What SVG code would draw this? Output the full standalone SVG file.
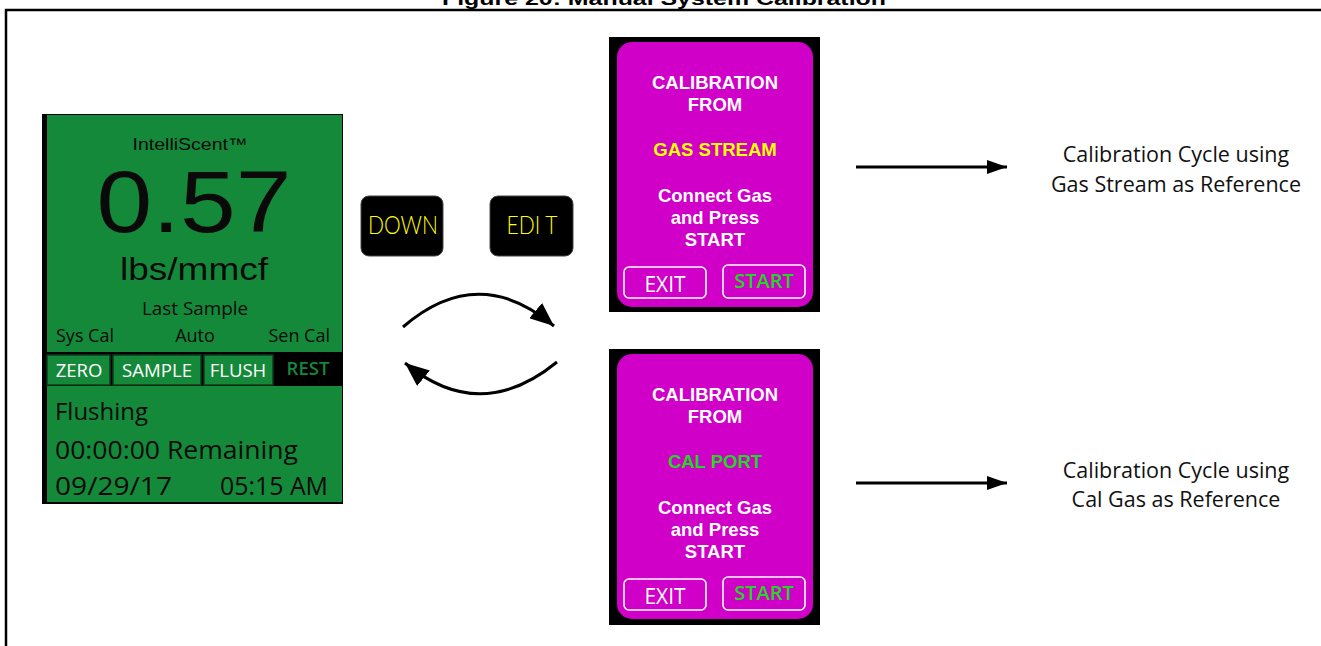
<svg xmlns="http://www.w3.org/2000/svg" width="1321" height="646" viewBox="0 0 1321 646">
<defs>
<style>
.frame{fill:none;stroke:#000;stroke-width:2.5}
.title{font-family:"Liberation Sans",Arial,sans-serif;font-weight:bold;font-size:19px;fill:#000}
.g{font-family:"Open Sans","Noto Sans",sans-serif;fill:#0a0a0a}
.ga{font-family:"Liberation Sans",Arial,sans-serif;fill:#0a0a0a}
.gbtn{fill:#15893a;stroke:#0b3d18;stroke-width:1.5}
.gbt{font-family:"Open Sans","Noto Sans",sans-serif;font-size:18.5px;fill:#fff;text-anchor:middle}
.key{fill:#000;stroke:#444;stroke-width:1}
.keyt{font-family:"Lato","Liberation Sans Narrow",sans-serif;font-size:25px;fill:#ffff00;text-anchor:middle;font-weight:300}
.mag{fill:#d000c8}
.mt{font-family:"Liberation Sans",Arial,sans-serif;font-weight:bold;font-size:18.5px;fill:#fff;text-anchor:middle}
.mbox{fill:none;stroke:#fff;stroke-width:1.6}
.exit{font-family:"Open Sans","Noto Sans",sans-serif;font-size:21px;fill:#fff;text-anchor:middle}
.start{font-family:"Open Sans","Noto Sans",sans-serif;font-weight:600;font-size:20px;fill:#22d822;text-anchor:middle}
.lbl{font-family:"Open Sans","Noto Sans",sans-serif;font-size:21.5px;fill:#111;text-anchor:middle}
.conn{fill:none;stroke:#000;stroke-width:3}
</style>
<marker id="ah" viewBox="0 0 20 14" refX="20" refY="7" markerWidth="20" markerHeight="14" markerUnits="userSpaceOnUse" orient="auto">
<path d="M0,0 L20,7 L0,14 Z" fill="#000"/>
</marker>
<marker id="ah2" viewBox="0 0 24 20" refX="24" refY="10" markerWidth="24" markerHeight="20" markerUnits="userSpaceOnUse" orient="auto">
<path d="M0,0 L24,10 L0,20 Z" fill="#000"/>
</marker>
</defs>
<rect width="1321" height="646" fill="#fff"/>
<text class="title" x="664" y="5" text-anchor="middle" textLength="444" lengthAdjust="spacingAndGlyphs">Figure 20: Manual System Calibration</text>
<path class="frame" d="M6,646 V10 H1321"/>

<g id="main-screen">
<rect x="42" y="114" width="301" height="390" fill="#000"/>
<rect x="47" y="115" width="295" height="387" fill="#15893a"/>
<text class="ga" x="190" y="150" font-size="17" text-anchor="middle" textLength="115" lengthAdjust="spacingAndGlyphs">IntelliScent™</text>
<text class="ga" x="194" y="232" font-size="87" text-anchor="middle" textLength="195" lengthAdjust="spacingAndGlyphs">0.57</text>
<text class="ga" x="194" y="280" font-size="32" text-anchor="middle" textLength="148" lengthAdjust="spacingAndGlyphs">lbs/mmcf</text>
<text class="g" x="195" y="315" font-size="18" text-anchor="middle" textLength="106" lengthAdjust="spacingAndGlyphs">Last Sample</text>
<text class="g" x="56" y="342" font-size="18" textLength="58" lengthAdjust="spacingAndGlyphs">Sys Cal</text>
<text class="g" x="195" y="342" font-size="18" text-anchor="middle">Auto</text>
<text class="g" x="330" y="342" font-size="18" text-anchor="end">Sen Cal</text>
<rect x="47" y="352" width="295" height="34" fill="#000"/>
<rect class="gbtn" x="47" y="355" width="63" height="30"/>
<rect class="gbtn" x="113" y="355" width="88" height="30"/>
<rect class="gbtn" x="204" y="355" width="69" height="30"/>
<text class="gbt" x="79" y="377">ZERO</text>
<text class="gbt" x="157" y="377" textLength="70" lengthAdjust="spacingAndGlyphs">SAMPLE</text>
<text class="gbt" x="238" y="377">FLUSH</text>
<text class="gbt" x="308" y="375" style="fill:#15893a;font-weight:600">REST</text>
<text class="g" x="55" y="420" font-size="24" textLength="93" lengthAdjust="spacingAndGlyphs">Flushing</text>
<text class="g" x="55" y="459" font-size="25" textLength="243" lengthAdjust="spacingAndGlyphs">00:00:00  Remaining</text>
<text class="g" x="55" y="495" font-size="26" textLength="117" lengthAdjust="spacingAndGlyphs">09/29/17</text>
<text class="g" x="328" y="495" font-size="26" text-anchor="end" textLength="108" lengthAdjust="spacingAndGlyphs">05:15 AM</text>
</g>

<g id="key-down">
<rect class="key" x="361" y="196" width="82" height="60" rx="8"/>
<text class="keyt" x="403" y="234" textLength="70" lengthAdjust="spacingAndGlyphs">DOWN</text>
</g>
<g id="key-edit">
<rect class="key" x="490" y="196" width="83" height="60" rx="8"/>
<text class="keyt" x="532" y="234" textLength="51" lengthAdjust="spacingAndGlyphs">EDI T</text>
</g>

<g id="screen-gas-stream">
<rect x="609" y="37" width="211" height="275" fill="#000"/>
<rect class="mag" x="617" y="42" width="196" height="265" rx="15"/>
<text class="mt" x="715" y="89">CALIBRATION</text>
<text class="mt" x="715" y="111">FROM</text>
<text class="mt" x="715" y="156" style="fill:#ffff00">GAS STREAM</text>
<text class="mt" x="715" y="202">Connect Gas</text>
<text class="mt" x="715" y="224">and Press</text>
<text class="mt" x="715" y="246">START</text>
<rect class="mbox" x="624" y="267" width="82" height="31" rx="5"/>
<text class="exit" x="665" y="292">EXIT</text>
<rect class="mbox" x="723" y="265" width="82" height="33" rx="5"/>
<text class="start" x="764" y="288">START</text>
</g>

<g id="screen-cal-port">
<rect x="609" y="349" width="211" height="276" fill="#000"/>
<rect class="mag" x="617" y="354" width="196" height="265" rx="15"/>
<text class="mt" x="715" y="401">CALIBRATION</text>
<text class="mt" x="715" y="423">FROM</text>
<text class="mt" x="715" y="468" style="fill:#22d822">CAL PORT</text>
<text class="mt" x="715" y="514">Connect Gas</text>
<text class="mt" x="715" y="536">and Press</text>
<text class="mt" x="715" y="558">START</text>
<rect class="mbox" x="624" y="579" width="82" height="31" rx="5"/>
<text class="exit" x="665" y="604">EXIT</text>
<rect class="mbox" x="723" y="577" width="82" height="33" rx="5"/>
<text class="start" x="764" y="600">START</text>
</g>

<g id="label-gas-stream">
<text class="lbl" x="1176" y="162">Calibration Cycle using</text>
<text class="lbl" x="1176" y="192">Gas Stream as Reference</text>
</g>
<g id="label-cal-gas">
<text class="lbl" x="1176" y="478">Calibration Cycle using</text>
<text class="lbl" x="1176" y="507">Cal Gas as Reference</text>
</g>

<g id="connectors">
<path class="conn" d="M403,327 Q478,262 554,326" marker-end="url(#ah2)"/>
<path class="conn" d="M557,362 Q480,425 405,363" marker-end="url(#ah2)"/>
<line class="conn" x1="856" y1="167" x2="1007" y2="167" stroke-width="2.5" marker-end="url(#ah)"/>
<line class="conn" x1="856" y1="483" x2="1007" y2="483" stroke-width="2.5" marker-end="url(#ah)"/>
</g>
</svg>
